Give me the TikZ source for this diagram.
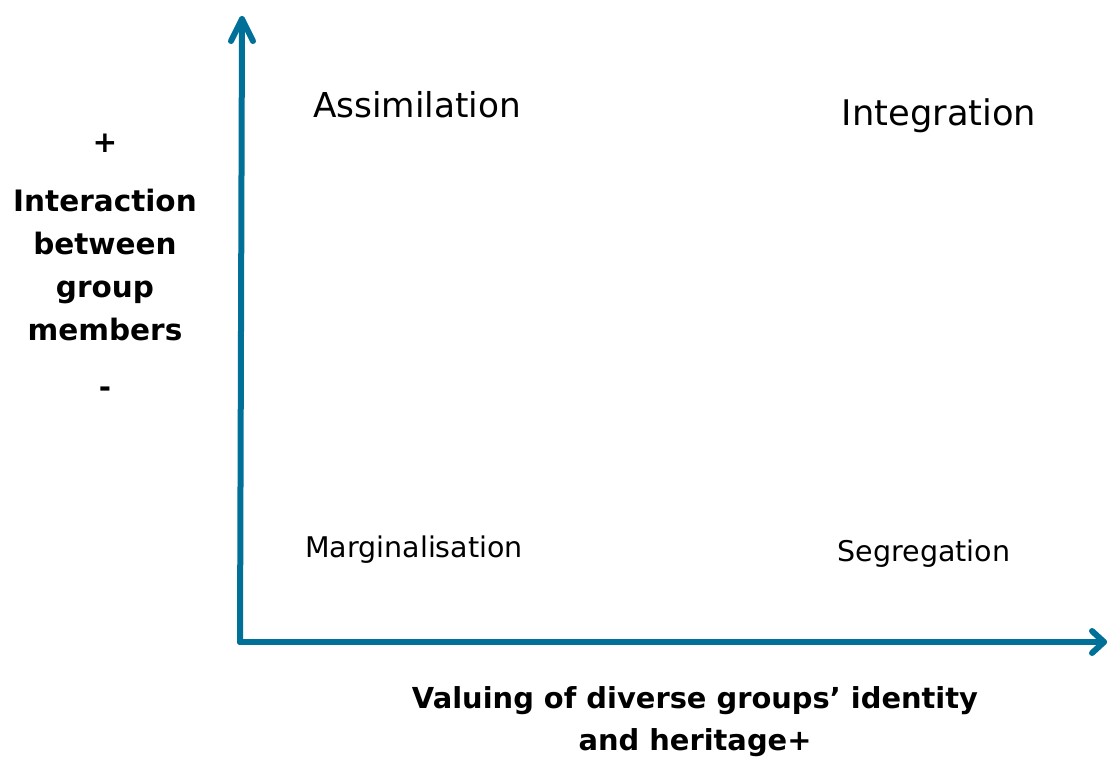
\documentclass[tikz,border=0pt]{standalone}
\usepackage{fontspec}
\setmainfont{DejaVu Sans}
\usetikzlibrary{calc}
\definecolor{axisblue}{RGB}{0,112,152}
\begin{document}
\begin{tikzpicture}[x=1pt,y=-1pt,
  axis/.style={draw=axisblue,line width=6pt,line cap=round,line join=round},
  quad/.style={font=\fontsize{34.3}{40}\selectfont,inner sep=0pt},
  quadsmall/.style={font=\fontsize{28.5}{34}\selectfont,inner sep=0pt},
  lbl/.style={font=\bfseries\fontsize{29.5}{43}\selectfont,align=center,inner sep=0pt}]
\useasboundingbox (0,0) rectangle (1109,758);
\coordinate (O) at (240,642);
\coordinate (Ytip) at (242,19);
\coordinate (Xtip) at (1104,642);
\draw[axis] (O) -- (Ytip);
\draw[axis] (O) -- (Xtip);
\draw[axis] ($(Ytip)+(-11,22)$) -- (Ytip) -- ($(Ytip)+(11,22)$);
\draw[axis] ($(Xtip)+(-12,-11)$) -- (Xtip) -- ($(Xtip)+(-12,11)$);
\node[quad] (assim) at (417,105) {Assimilation};
\node[quad,font=\fontsize{35.3}{40}\selectfont] (integ) at (939,116) {Integration};
\node[quadsmall] (marg) at (414,550) {Marginalisation};
\node[quadsmall] (seg) at (924,554) {Segregation};
\node[lbl] (plus) at (105,143) {+};
\node[lbl] (ylab) at (105,265) {Interaction\\between\\group\\members};
\node[lbl] (minus) at (105,392) {-};
\node[lbl,font=\bfseries\fontsize{28.9}{42}\selectfont] (xlab) at (695,722) {Valuing of diverse groups’ identity\\and heritage+};
\end{tikzpicture}
\end{document}
